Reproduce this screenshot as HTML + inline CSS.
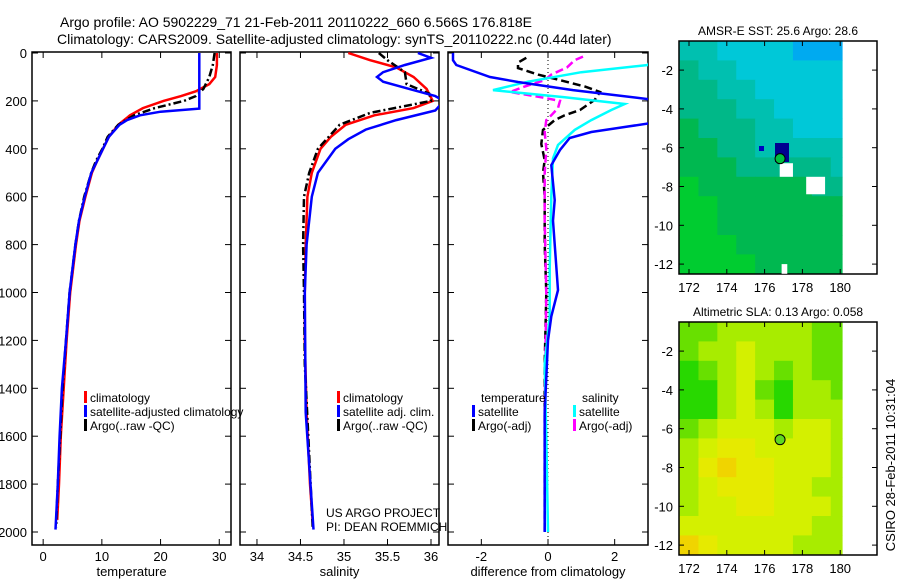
<!DOCTYPE html>
<html><head><meta charset="utf-8">
<style>
html,body{margin:0;padding:0;background:#fff;}
svg{display:block;font-family:"Liberation Sans",sans-serif;}
</style></head>
<body>
<svg id="chart" width="900" height="580" viewBox="0 0 900 580" xmlns="http://www.w3.org/2000/svg">
<text x="60" y="27" font-size="14">Argo profile: AO 5902229_71 21-Feb-2011 20110222_660 6.566S 176.818E</text>
<text x="57" y="44" font-size="14">Climatology: CARS2009. Satellite-adjusted climatology: synTS_20110222.nc (0.44d later)</text>
<text transform="translate(895,465) rotate(-90)" text-anchor="middle" font-size="13">CSIRO 28-Feb-2011 10:31:04</text>
</svg>
<script>
// ---------- data ----------
const depthTicks = [0,200,400,600,800,1000,1200,1400,1600,1800,2000];
const tempTicks = [0,10,20,30];
const salTicks = [34,34.5,35,35.5,36];
const salTickLabels = ["34","34.5","35","35.5","36"];
const diffTicks = [-2,0,2];

const tClimDepth = [0,50,100,130,160,180,200,230,260,300,350,400,450,500,600,700,800,1000,1200,1400,1600,1800,1950];
const tClimVal   = [29.6,29.6,29.3,28.3,26.0,23.5,20.5,17.0,14.8,12.8,11.2,10.2,9.2,8.3,7.2,6.2,5.6,4.6,4.0,3.5,3.0,2.7,2.4];
const tSatDepth = [0,100,200,232,245,260,280,300,350,400,450,500,600,700,800,1000,1200,1400,1600,1800,1990];
const tSatVal   = [26.6,26.6,26.6,26.6,20.0,16.5,14.3,13.0,11.2,10.2,9.2,8.2,7.1,6.1,5.5,4.5,3.9,3.2,2.8,2.5,2.1];
const tArgoDepth = [0,50,100,150,180,200,230,260,300,350,400,450,500,600,700,800,1000,1200,1400,1600,1800,1980];
const tArgoVal   = [29.2,28.9,28.3,27.3,26.0,24.0,19.0,15.5,12.8,11.0,10.1,9.0,8.2,7.0,6.1,5.5,4.5,3.9,3.3,2.9,2.5,2.2];

const sClimDepth = [0,30,60,100,150,200,230,260,300,350,400,500,600,800,1000,1200,1500,1800,1960];
const sClimVal   = [35.05,35.3,35.6,35.8,35.95,36.02,35.8,35.35,35.02,34.85,34.73,34.63,34.58,34.56,34.55,34.55,34.57,34.61,34.64];
const sSatDepth = [0,20,50,80,100,120,150,180,200,240,280,320,360,400,500,600,800,1000,1500,1990];
const sSatVal   = [35.85,36.0,35.7,35.45,35.38,35.45,35.75,36.05,36.15,36.05,35.6,35.25,35.05,34.9,34.7,34.63,34.57,34.55,34.56,34.65];
const sArgoDepth = [0,30,80,130,170,200,250,300,400,500,600,800,1000,1300,1600,1980];
const sArgoVal   = [35.4,35.5,35.7,35.72,35.98,36.0,35.3,34.95,34.7,34.6,34.54,34.53,34.54,34.55,34.59,34.64];

const dTSatDepth = [0,30,50,100,121,155,196,290,330,355,405,468,614,700,990,1100,1200,1500,2000];
const dTSatVal   = [-2.85,-2.85,-2.75,-1.74,-0.9,0.75,3.2,3.2,1.3,0.65,0.36,0.1,0.2,0.15,0.3,0.1,0.0,-0.1,-0.1];
const dSSatDepth = [0,50,80,120,155,185,213,238,280,321,384,440,600,900,1100,1300,1600,2000];
const dSSatVal   = [3.2,3.0,1.0,-0.6,-1.65,0.5,2.3,1.9,1.3,0.8,0.3,0.15,0.1,0.05,0.05,-0.1,-0.05,0.0];
const dTArgoDepth = [20,40,63,90,113,140,163,196,238,260,280,321,380,447,500,600,800,1000,1300,1600,2000];
const dTArgoVal   = [-0.65,-0.9,-0.9,-0.3,0.36,1.1,1.56,1.4,0.96,0.5,0.2,-0.15,-0.2,-0.1,-0.15,-0.1,-0.1,-0.05,-0.1,-0.1,-0.1];
const dSArgoDepth = [15,30,60,90,113,140,163,185,200,230,260,280,330,400,500,700,1000,1500,2000];
const dSArgoVal   = [1.05,0.8,0.57,0.1,-0.1,-0.7,-1.14,-0.2,0.36,0.3,0.1,-0.05,-0.1,-0.05,-0.1,-0.1,-0.05,-0.1,-0.1];

// map grids: rows lat -0.5..-12.5 (1 deg), cols lon 171.5..180.5 (1 deg, clipped at 180.1)
const sstGrid = [
 [2,2,1,1,1,1,0,0,0],
 [3,2,2,1,1,1,1,1,1],
 [3,3,2,2,1,1,1,1,1],
 [3,3,3,2,2,1,1,1,1],
 [4,3,3,3,2,2,1,1,1],
 [4,4,3,3,2,2,2,2,2],
 [4,4,4,3,3,3,3,3,2],
 [5,4,4,4,4,4,4,3,3],
 [5,5,4,4,4,4,4,4,4],
 [5,5,4,4,4,4,4,4,4],
 [5,5,5,4,4,4,4,4,4],
 [5,5,5,5,4,4,4,4,4]];
const slaGrid = [
 [1,1,2,2,2,2,2,1,1],
 [1,2,2,3,2,2,2,1,1],
 [0,1,2,3,2,1,2,1,1],
 [0,0,2,3,1,0,2,2,1],
 [0,0,2,3,2,0,2,2,2],
 [1,2,3,3,3,2,3,3,2],
 [2,3,4,4,3,3,3,3,2],
 [2,4,5,4,4,3,3,3,2],
 [2,3,4,4,4,3,3,2,2],
 [2,3,3,4,4,3,3,3,2],
 [3,3,3,3,3,3,3,2,2],
 [5,4,3,3,3,3,2,2,2]];
const sstPalette = ["#00aaf0","#00c8d8","#00c0b0","#00b888","#00b850","#00cc30"];
const slaPalette = ["#28d800","#68e000","#a8ec00","#d4f000","#e6ea00","#f0d400"];
const lonTicks = [172,174,176,178,180];
const latTicks = [-2,-4,-6,-8,-10,-12];
const argoLon = 176.818, argoLat = -6.566;

// ---------- helpers ----------
const NS="http://www.w3.org/2000/svg";
const svg=document.getElementById('chart');
function mk(tag,attrs,parent){const e=document.createElementNS(NS,tag);for(const k in attrs)e.setAttribute(k,attrs[k]);(parent||svg).appendChild(e);return e;}
const yD = d => 53 + d*0.2395;

function panel(name,x0,x1,xmin,xmax,ticks,labels,xlabel,showY){
  const sx=v=>x0+(v-xmin)/(xmax-xmin)*(x1-x0);
  const g=mk('g',{});
  
  
  const r=mk('rect',{x:x0,y:52,width:x1-x0,height:493,fill:'none',stroke:'#000','stroke-width':1.5},g);
  
  
  depthTicks.forEach(d=>{
    mk('line',{x1:x0,x2:x0+6,y1:yD(d),y2:yD(d),stroke:'#000'},g);
    mk('line',{x1:x1-6,x2:x1,y1:yD(d),y2:yD(d),stroke:'#000'},g);
    if(showY){const t=mk('text',{x:x0-5,y:yD(d)+5,'text-anchor':'end','font-size':13},g);t.textContent=d;
      
      }
  });
  ticks.forEach((v,i)=>{
    const x=sx(v);
    mk('line',{x1:x,x2:x,y1:52,y2:58,stroke:'#000'},g);
    mk('line',{x1:x,x2:x,y1:539,y2:545,stroke:'#000'},g);
    const t=mk('text',{x:x,y:561,'text-anchor':'middle','font-size':13},g);t.textContent=labels[i];
    
    
  });
  const xl=mk('text',{x:(x0+x1)/2,y:576,'text-anchor':'middle','font-size':13},g);xl.textContent=xlabel;
  
  
  return sx;
}
function line(sx,depths,vals,color,w,dash,name,x0,x1){
  const cid='clip'+x0;
  if(!document.getElementById(cid)){const cp=mk('clipPath',{id:cid});mk('rect',{x:x0,y:52,width:x1-x0,height:493},cp);}
  const pts=depths.map((d,i)=>sx(vals[i]).toFixed(1)+','+yD(d).toFixed(1)).join(' ');
  const p=mk('polyline',{points:pts,fill:'none',stroke:color,'stroke-width':w,'clip-path':'url(#'+cid+')'});
  if(dash)p.setAttribute('stroke-dasharray',dash);
  
  
}
function legend(x,y,color,text,name){
  mk('rect',{x:x,y:y-11,width:3,height:12,fill:color});
  const t=mk('text',{x:x+6,y:y,'font-size':12});t.textContent=text;
  
  
}

// ---------- panels ----------
const sT=panel('temperature-panel',32,231,-1.9,32,tempTicks,tempTicks.map(String),'temperature',true);
line(sT,tClimDepth,tClimVal,'#ff0000',2.5,null,'temp-climatology-line',32,231);
line(sT,tArgoDepth,tArgoVal,'#000',2.5,'8,3,2,3','temp-argo-line',32,231);
line(sT,tSatDepth,tSatVal,'#0000ff',2.5,null,'temp-satellite-line',32,231);
legend(84,402,'#ff0000','climatology','legend-climatology');
legend(84,416,'#0000ff','satellite-adjusted climatology','legend-satellite');
legend(84,430,'#000','Argo(..raw -QC)','legend-argo');

const sS=panel('salinity-panel',240,439,33.805,36.092,salTicks,salTickLabels,'salinity',false);
line(sS,sClimDepth,sClimVal,'#ff0000',2.5,null,'sal-climatology-line',240,439);
line(sS,sArgoDepth,sArgoVal,'#000',2.5,'8,3,2,3','sal-argo-line',240,439);
line(sS,sSatDepth,sSatVal,'#0000ff',2.5,null,'sal-satellite-line',240,439);
legend(337,402,'#ff0000','climatology','legend-sal-climatology');
legend(337,416,'#0000ff','satellite adj. clim.','legend-sal-satellite');
legend(337,430,'#000','Argo(..raw -QC)','legend-sal-argo');
const us=mk('text',{x:326,y:517,'font-size':12});us.textContent='US ARGO PROJECT';


const pi=mk('text',{x:326,y:531,'font-size':12});pi.textContent='PI: DEAN ROEMMICH';



const sD=panel('difference-panel',448,648,-3,3,diffTicks,diffTicks.map(String),'difference from climatology',false);
const z=mk('line',{x1:sD(0),x2:sD(0),y1:52,y2:545,stroke:'#000','stroke-dasharray':'1,3'});


line(sD,dTArgoDepth,dTArgoVal,'#000',2.5,'8,4','diff-temp-argo-line',448,648);
line(sD,dSArgoDepth,dSArgoVal,'#ff00ff',2.5,'8,4','diff-sal-argo-line',448,648);
line(sD,dSSatDepth,dSSatVal,'#00ffff',2.5,null,'diff-sal-satellite-line',448,648);
line(sD,dTSatDepth,dTSatVal,'#0000ff',2.5,null,'diff-temp-satellite-line',448,648);
const lt=mk('text',{x:481,y:402,'font-size':12});lt.textContent='temperature';


const ls=mk('text',{x:582,y:402,'font-size':12});ls.textContent='salinity';


legend(472,416,'#0000ff','satellite','legend-diff-temp-sat');
legend(472,430,'#000','Argo(-adj)','legend-diff-temp-argo');
legend(573,416,'#00ffff','satellite','legend-diff-sal-sat');
legend(573,430,'#ff00ff','Argo(-adj)','legend-diff-sal-argo');

// ---------- maps ----------
function map(name,top,grid,pal,title){
  const lx=v=>689+(v-172)*18.9;
  const ly=v=>top+(-0.5-v)*19.4;
  const g=mk('g',{});
  
  
  grid.forEach((row,r)=>row.forEach((v,c)=>{
    const x=lx(171.5+c), x2=Math.min(lx(172.5+c),lx(180.1));
    const cell=mk('rect',{x:x,y:ly(-0.5-r),width:x2-x+0.5,height:19.9,fill:pal[v]},g);
    
    
  }));
  const fr=mk('rect',{x:679,y:top,width:198,height:233,fill:'none',stroke:'#000','stroke-width':1.5},g);
  
  
  lonTicks.forEach(v=>{
    mk('line',{x1:lx(v),x2:lx(v),y1:top,y2:top+5,stroke:'#000'},g);
    mk('line',{x1:lx(v),x2:lx(v),y1:top+228,y2:top+233,stroke:'#000'},g);
    const t=mk('text',{x:lx(v),y:top+251,'text-anchor':'middle','font-size':13},g);t.textContent=v;
    
    
  });
  latTicks.forEach(v=>{
    mk('line',{x1:679,x2:684,y1:ly(v),y2:ly(v),stroke:'#000'},g);
    mk('line',{x1:872,x2:877,y1:ly(v),y2:ly(v),stroke:'#000'},g);
    const t=mk('text',{x:673,y:ly(v)+5,'text-anchor':'end','font-size':13},g);t.textContent=v;
    
    
  });
  const tt=mk('text',{x:778,y:top-6,'text-anchor':'middle','font-size':12},g);tt.textContent=title;
  
  
  return {lx,ly,g};
}
const m1=map('sst-map',41,sstGrid,sstPalette,'AMSR-E SST: 25.6 Argo: 28.6');
[[176.8,-6.8,0.7,0.7],[178.2,-7.5,1.0,0.9],[176.9,-12.0,0.3,0.5]].forEach(b=>{
  const w=mk('rect',{x:m1.lx(b[0]),y:m1.ly(b[1]),width:b[2]*18.9,height:b[3]*19.4,fill:'#fff'},m1.g);
  
  
});
const db=mk('rect',{x:775,y:143,width:14,height:19,fill:'#000090'},m1.g);


mk('rect',{x:759,y:146,width:5,height:5,fill:'#0000c0'},m1.g);
const c1=mk('circle',{cx:m1.lx(argoLon),cy:m1.ly(argoLat),r:5,fill:'#00c040',stroke:'#000'},m1.g);


const m2=map('sla-map',322,slaGrid,slaPalette,'Altimetric SLA: 0.13 Argo: 0.058');
const c2=mk('circle',{cx:m2.lx(argoLon),cy:m2.ly(argoLat),r:5,fill:'#60d820',stroke:'#000'},m2.g);


</script>
</body></html>
